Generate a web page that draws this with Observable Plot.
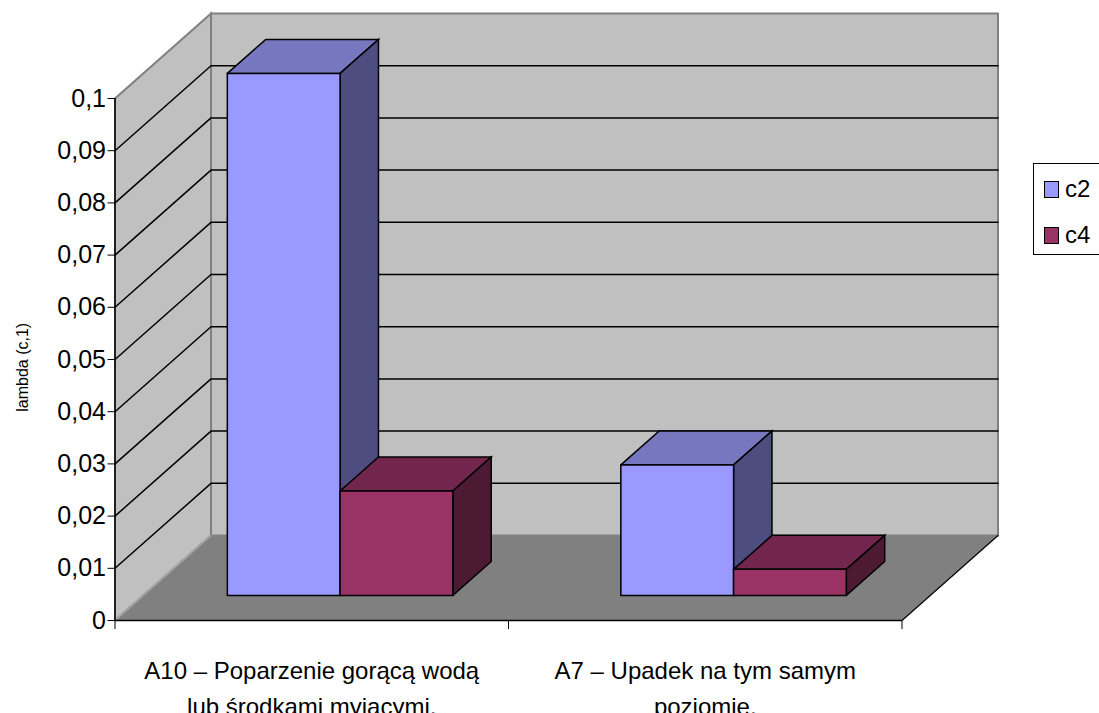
<!DOCTYPE html>
<html>
<head>
<meta charset="utf-8">
<script src="https://cdn.jsdelivr.net/npm/d3@7"></script>
<script src="https://cdn.jsdelivr.net/npm/@observablehq/plot@0.6"></script>
<style>
html,body{margin:0;padding:0;background:#fff;overflow:hidden}
#wrap{position:relative;width:1099px;height:713px;overflow:hidden;font-family:"Liberation Sans",Arial,sans-serif}
#wrap svg{display:block}
#legend{position:absolute;left:1033px;top:163px;width:80px;height:92px;border:1.5px solid #000;box-sizing:border-box;background:#fff}
#legend .k{position:absolute;left:10px;width:15px;height:17px;border:1.5px solid #000;box-sizing:border-box}
#legend .t{position:absolute;left:31px;font-size:24px;line-height:24px;color:#000}
</style>
</head>
<body>
<div id="wrap"></div>
<script>
const categories = ["A10 – Poparzenie gorącą wodą\nlub środkami myjącymi.", "A7 – Upadek na tym samym\npoziomie."];
const seriesNames = ["c2", "c4"];
const c2Values = [0.1, 0.025];
const c4Values = [0.02, 0.005];
const yTicks = [0,0.01,0.02,0.03,0.04,0.05,0.06,0.07,0.08,0.09,0.1];
const yLabels = ["0","0,01","0,02","0,03","0,04","0,05","0,06","0,07","0,08","0,09","0,1"];
const faceColors = {
  c2: {front:"#9999ff", top:"#7777bf", side:"#4d4d80"},
  c4: {front:"#993366", top:"#73264d", side:"#4d1a33"}
};

// Oblique projection of the 3D box, expressed in scale units
const depthX = 0.244, depthY = 0.01628;   // shift of the full floor depth
const barDepthNear = 0.295, barDepthFar = 0.695;
const barStart = 0.2135, barWidth = 0.2865;
const P = (x, v, d) => ({x: x + depthX * d, y: v + depthY * d});
const quad = (a, b, c, e) => [a, b, c, e, a];
const xMax = categories.length, yMax = 0.1;

const poly = (pts, fill, stroke, strokeWidth = 1.5) =>
  Plot.line(pts, {x: "x", y: "y", fill, stroke, strokeWidth, strokeLinejoin: "miter", strokeMiterlimit: 4});

const marks = [
  // left wall, back wall, floor
  poly(quad(P(0,0,0), P(0,yMax,0), P(0,yMax,1), P(0,0,1)), "#c0c0c0", "#808080", 2),
  poly(quad(P(0,0,1), P(0,yMax,1), P(xMax,yMax,1), P(xMax,0,1)), "#c0c0c0", "#808080", 2),
  poly(quad(P(0,0,0), P(0,0,1), P(xMax,0,1), P(xMax,0,0)), "#808080", "none"),
  Plot.line([P(0,0,0), P(0,0,1)], {x:"x", y:"y", stroke:"#a8a8a8", strokeWidth:1.5}),
  Plot.line([P(xMax,0,0), P(xMax,0,1)], {x:"x", y:"y", stroke:"#000", strokeWidth:1.2}),
];
// grid lines on both walls
yTicks.slice(1, -1).forEach(v => {
  marks.push(Plot.line([P(0,v,0), P(0,v,1), P(xMax,v,1)], {x:"x", y:"y", stroke:"#000", strokeWidth:1.5}));
});
// bars
categories.forEach((_, i) => {
  seriesNames.forEach((name, s) => {
    const v = (s === 0 ? c2Values : c4Values)[i];
    const x0 = i + barStart + s * barWidth, x1 = x0 + barWidth;
    const n = barDepthNear, f = barDepthFar, col = faceColors[name];
    marks.push(
      poly(quad(P(x0,v,n), P(x0,v,f), P(x1,v,f), P(x1,v,n)), col.top, "#000"),
      poly(quad(P(x1,0,n), P(x1,v,n), P(x1,v,f), P(x1,0,f)), col.side, "#000"),
      poly(quad(P(x0,0,n), P(x0,v,n), P(x1,v,n), P(x1,0,n)), col.front, "#000")
    );
  });
});
// axes
marks.push(
  Plot.ruleX([0], {y1: 0, y2: yMax, stroke: "#000", strokeWidth: 1.5}),
  Plot.ruleY([0], {x1: 0, x2: xMax, stroke: "#000", strokeWidth: 1.5}),
  Plot.axisY({ticks: yTicks, tickFormat: (d) => yLabels[yTicks.indexOf(d)], tickSize: 7, tickPadding: 2, fontSize: 25, label: null, stroke:"#000"}),
  Plot.axisX({ticks: [0,1,2], tickFormat: () => "", tickSize: 9, label: null}),
  Plot.text(categories, {x: (d, i) => i + 0.5, y: 0, dy: 65, text: d => d, fontSize: 24, lineHeight: 1.52, fill: "#000", textAnchor: "middle"}),
  Plot.text(["lambda (c,1)"], {x: 0, y: 0.0485, dx: -92, rotate: -90, text: d => d, fontSize: 16, fill: "#000"})
);

const chart = Plot.plot({
  width: 1099, height: 713,
  marginLeft: 114.5, marginRight: 197.5, marginTop: 98, marginBottom: 93,
  x: {domain: [0, xMax]},
  y: {domain: [0, yMax]},
  style: {fontFamily: '"Liberation Sans", Arial, sans-serif', color: "#000", background: "#fff", overflow: "visible"},
  marks
});
const wrap = document.getElementById("wrap");
wrap.appendChild(chart);

const legend = document.createElement("div");
legend.id = "legend";
seriesNames.forEach((name, i) => {
  const k = document.createElement("div"); k.className = "k";
  k.style.top = (17 + i * 46) + "px"; k.style.background = faceColors[name].front;
  const t = document.createElement("div"); t.className = "t";
  t.style.top = (13 + i * 46) + "px"; t.textContent = name;
  legend.append(k, t);
});
wrap.appendChild(legend);
</script>
</body>
</html>
